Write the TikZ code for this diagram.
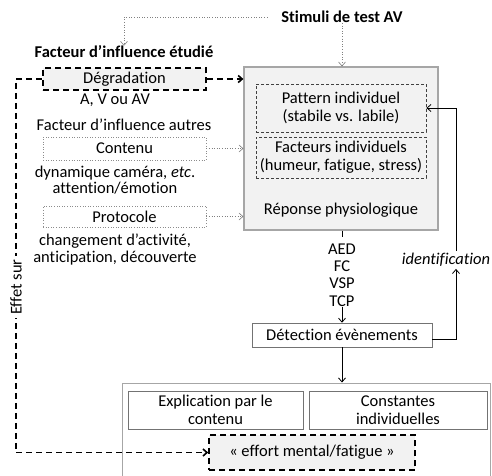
\documentclass[tikz,border=0pt]{standalone}
\usepackage{fontspec}
\setmainfont{Carlito}[Ligatures=NoCommon]
\usetikzlibrary{positioning, arrows.meta}

\definecolor{boxgray}{HTML}{F2F2F2}

\begin{document}
\begin{tikzpicture}[
    x=1pt, y=-1pt,
    >={Straight Barb[length=4pt,width=7pt]},
    font=\fontsize{16.5}{17}\selectfont,
    box/.style={draw, rectangle, inner sep=0pt, align=center},
    studied/.style={box, fill=boxgray, line width=1.6pt, dash pattern=on 6pt off 4pt},
    other/.style={box, draw=black!45, line width=0.6pt, dotted},
    indiv/.style={box, draw=black!75, line width=0.8pt, dash pattern=on 3pt off 2pt},
    plain/.style={box, draw=black!55, line width=0.6pt, fill=white},
    note/.style={align=center, inner sep=0pt},
    dotarrow/.style={->, draw=black!50, line width=0.6pt, dotted},
    dasharrow/.style={->, line width=1.6pt, dash pattern=on 6pt off 4pt},
    arrow/.style={->, line width=0.8pt}
]
\clip (0,0) rectangle (492,475);
\fill[white] (0,0) rectangle (492,475);

% Nodes
\node[note, font=\fontsize{16.5}{17}\selectfont\bfseries] (stim) at (342,17) {Stimuli de test AV};
\node[note, font=\fontsize{16.5}{17}\selectfont\bfseries] (studiedhead) at (124,52) {Facteur d’influence étudié};
\node[studied, minimum width=163pt, minimum height=22pt] (degr) at (124.5,79) {Dégradation};
\node[note] (degrlab) at (115,100) {A, V ou AV};
\node[note] (otherhead) at (124,125) {Facteur d’influence autres};
\node[other, minimum width=163pt, minimum height=23pt] (cont) at (124.5,148.5) {Contenu};
\node[note, font=\fontsize{16.5}{16}\selectfont] (contlab) at (115,180) {dynamique caméra, \textit{etc}.\\attention/émotion};
\node[other, minimum width=163pt, minimum height=21pt] (proto) at (124.5,216.5) {Protocole};
\node[note] (protolab) at (115,249.5) {changement d’activité,\\anticipation, découverte};

\node[box, draw=black!35, line width=1.2pt, fill=boxgray, minimum width=194pt, minimum height=163pt] (rep) at (341,148.5) {};
\node[indiv, minimum width=170pt, minimum height=48pt, font=\fontsize{16.5}{18}\selectfont] (pat) at (341,108) {Pattern individuel\\(stabile vs. labile)};
\node[indiv, minimum width=170pt, minimum height=41pt, font=\fontsize{16.5}{18}\selectfont] (fac) at (341,157.5) {Facteurs individuels\\(humeur, fatigue, stress)};
\node[note] (reptxt) at (341,210) {Réponse physiologique};

\node[note, font=\fontsize{16.5}{17.3}\selectfont] (sig) at (342,275) {AED\\FC\\VSP\\TCP};
\node[plain, minimum width=180pt, minimum height=24pt] (det) at (342,335) {Détection évènements};
\node[note, font=\fontsize{16.5}{17}\selectfont\itshape] (ident) at (446,260) {identification};

\node[box, draw=black!35, line width=1pt, fill=white, minimum width=368pt, minimum height=140pt] (outer) at (306,453) {};
\node[plain, minimum width=175pt, minimum height=38pt, font=\fontsize{16.5}{18}\selectfont] (expl) at (215.5,410) {Explication par le\\contenu};
\node[plain, minimum width=178pt, minimum height=38pt, font=\fontsize{16.5}{18}\selectfont] (const) at (398,410) {Constantes\\individuelles};
\node[studied, minimum width=206pt, minimum height=35pt] (effort) at (312,452.5) {« effort mental/fatigue »};

\coordinate (effx) at (16,79);

% Edges
\draw[dotarrow, shorten <=14pt] (stim.west) -| (studiedhead.north);
\draw[dotarrow] (stim.south) -- (stim.south |- rep.north);
\draw[dasharrow] (degr.east) -- (degr.east -| rep.west);
\draw[dotarrow] (cont.east) -- (cont.east -| rep.west);
\draw[dotarrow] (proto.east) -- (proto.east -| rep.west);
\draw[line width=0.8pt] (rep.south -| sig.north) -- ++(0,6);
\draw[arrow] (sig.south) -- (det.north);
\draw[arrow] (det.south) -- (det.south |- outer.north);
\draw[arrow, shorten >=2pt] ([yshift=-4pt]det.east) -| ([xshift=10pt]ident.south);
\draw[arrow] ([xshift=10pt, yshift=2pt]ident.north) |- (pat.east);
\draw[dasharrow] (degr.west) -- (effx) |- (effort.west);
\node[note, fill=white, rotate=90, inner sep=3pt] (effet) at (16,287) {Effet sur};
\end{tikzpicture}
\end{document}
